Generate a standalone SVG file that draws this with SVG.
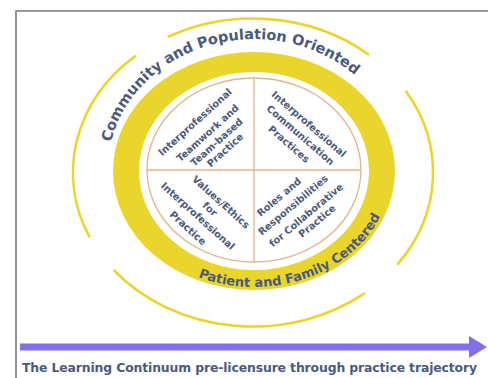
<svg xmlns="http://www.w3.org/2000/svg" width="488" height="378" viewBox="0 0 488 378">
<style>
.t{font-family:"DejaVu Sans","Verdana",sans-serif;font-weight:bold;fill:#4a5a7d}
.q{font-size:9.8px;text-anchor:middle}
.arc{fill:none;stroke:#e9d52b;stroke-width:2.6;stroke-linecap:round}
.tan{fill:none;stroke:#e2b58c;stroke-width:1.3}
</style>
<defs>
<path id="pTop" d="M110.8,142.1 A147,133 0 0 1 359.7,79.6"/>
<path id="pBot" d="M198.3,277 A137,116 0 0 0 381.9,212.6"/>
</defs>
<rect width="488" height="378" fill="#fff"/>
<g id="frame" fill="none" stroke="#7a7a7a" stroke-width="1.6">
<path d="M16,378 V11 H488"/>
</g>
<g id="outer-arcs">
<path class="arc" d="M168.6,36.5 A180,154 0 0 1 368.2,54.2"/>
<path class="arc" d="M134.9,56.3 A180,154 0 0 0 89.2,236.4"/>
<path class="arc" d="M114.3,270.7 A180,154 0 0 0 364.1,293.7"/>
<path class="arc" d="M406.2,91.6 A180,154 0 0 1 397.9,263.9"/>
</g>
<g id="ring">
<path fill="#e9d52b" fill-rule="evenodd" d="M113,171 A141,119 0 1 0 395,171 A141,119 0 1 0 113,171 Z M139,171 A115,99 0 1 0 369,171 A115,99 0 1 0 139,171 Z"/>
</g>
<g id="core">
<ellipse class="tan" cx="254" cy="170" rx="107" ry="92" fill="#fff"/>
<path class="tan" d="M147,170 H361 M254,78 V262"/>
</g>
<g id="q-teamwork" class="t q">
<text transform="translate(195,122) rotate(-42)" y="3.5">Interprofessional</text>
<text transform="translate(207.5,133) rotate(-42)" y="3.5">Teamwork and</text>
<text transform="translate(216.5,142) rotate(-42)" y="3.5">Team-based</text>
<text transform="translate(225,150) rotate(-42)" y="3.5">Practice</text>
</g>
<g id="q-communication" class="t q">
<text transform="translate(309,124) rotate(41)" y="3.5">Interprofessional</text>
<text transform="translate(300.5,135) rotate(41)" y="3.5">Communication</text>
<text transform="translate(289,144) rotate(41)" y="3.5">Practices</text>
</g>
<g id="q-values" class="t q">
<text transform="translate(221,202) rotate(42)" y="3.5">Values/Ethics</text>
<text transform="translate(210,209) rotate(42)" y="3.5">for</text>
<text transform="translate(198,216) rotate(42)" y="3.5">Interprofessional</text>
<text transform="translate(188,228) rotate(42)" y="3.5">Practice</text>
</g>
<g id="q-roles" class="t q">
<text transform="translate(279,197) rotate(-40)" y="3.5">Roles and</text>
<text transform="translate(293,205) rotate(-40)" y="3.5">Responsibilities</text>
<text transform="translate(306,215) rotate(-40)" y="3.5">for Collaborative</text>
<text transform="translate(317,221) rotate(-40)" y="3.5">Practice</text>
</g>
<g id="label-community" class="t">
<text font-size="14.5"><textPath href="#pTop">Community and Population Oriented</textPath></text>
</g>
<g id="label-patient" class="t">
<text font-size="13"><textPath href="#pBot">Patient and Family Centered</textPath></text>
</g>
<g id="connectors">
<path d="M20,347 H472" stroke="#826ee6" stroke-width="7" fill="none"/>
<polygon points="469,336 487,347 469,358" fill="#826ee6"/>
</g>
<g id="label-continuum" class="t">
<text x="22" y="372" font-size="12.4" textLength="455" lengthAdjust="spacing">The Learning Continuum pre-licensure through practice trajectory</text>
</g>
</svg>
